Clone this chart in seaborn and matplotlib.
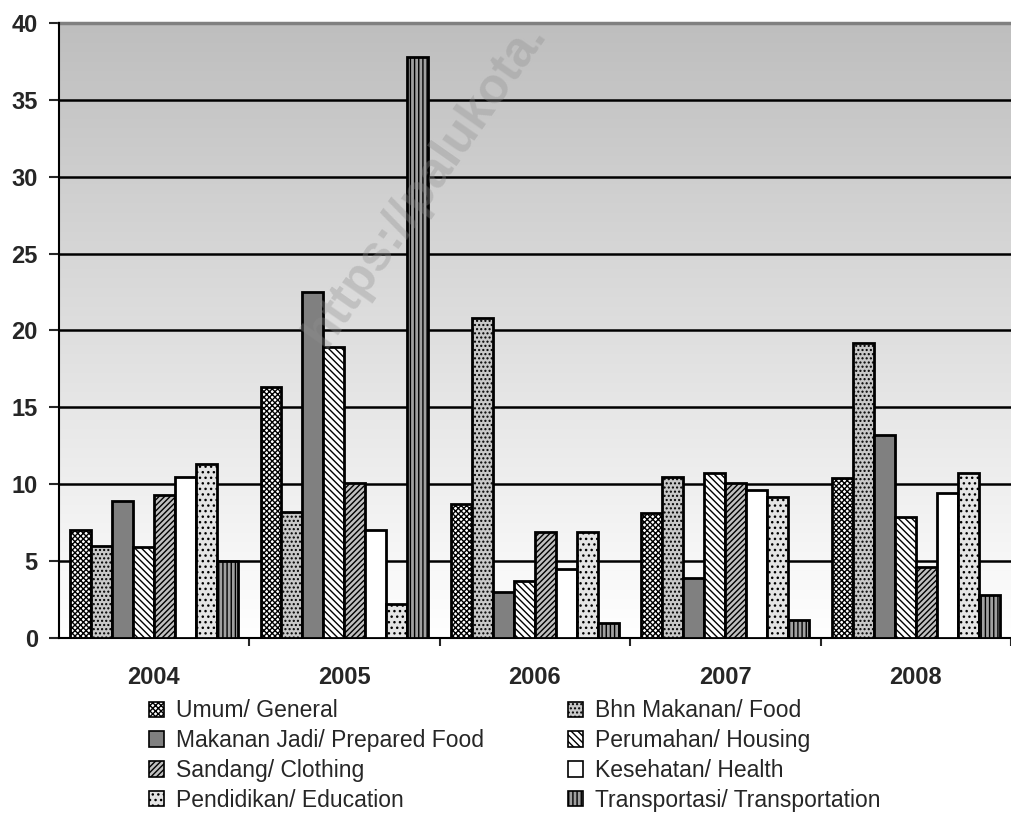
import numpy as np
import pandas as pd
import matplotlib
matplotlib.use('Agg')
import matplotlib.pyplot as plt
import seaborn as sns
from matplotlib.patches import Patch
from matplotlib.colors import LinearSegmentedColormap

years = ['2004', '2005', '2006', '2007', '2008']
groups = ['Umum/ General', 'Bhn Makanan/ Food', 'Makanan Jadi/ Prepared Food',
          'Perumahan/ Housing', 'Sandang/ Clothing', 'Kesehatan/ Health',
          'Pendidikan/ Education', 'Transportasi/ Transportation']

umum = [7.0, 16.3, 8.7, 8.1, 10.4]
bhn_makanan = [6.0, 8.2, 20.8, 10.5, 19.2]
makanan_jadi = [8.9, 22.5, 3.0, 3.9, 13.2]
perumahan = [5.9, 18.9, 3.7, 10.7, 7.9]
sandang = [9.3, 10.1, 6.9, 10.1, 4.6]
kesehatan = [10.5, 7.0, 4.5, 9.6, 9.4]
pendidikan = [11.3, 2.2, 6.9, 9.2, 10.7]
transportasi = [5.0, 37.8, 1.0, 1.2, 2.8]

series = [umum, bhn_makanan, makanan_jadi, perumahan, sandang, kesehatan, pendidikan, transportasi]
df = pd.DataFrame({
    'year': years * len(groups),
    'group': [g for g in groups for _ in years],
    'value': [v for s in series for v in s],
})

# fill colour + hatch for each series (greyscale like the original)
styles = {
    'Umum/ General': ('white', 'xxxxxx'),
    'Bhn Makanan/ Food': ('#c8c8c8', '....'),
    'Makanan Jadi/ Prepared Food': ('#808080', ''),
    'Perumahan/ Housing': ('white', '\\\\\\\\\\'),
    'Sandang/ Clothing': ('#c0c0c0', '//////'),
    'Kesehatan/ Health': ('white', ''),
    'Pendidikan/ Education': ('#e4e4e4', '...'),
    'Transportasi/ Transportation': ('#a0a0a0', '||||'),
}

sns.set_style('white')
plt.rcParams['font.family'] = ['Liberation Sans', 'DejaVu Sans']
plt.rcParams['hatch.linewidth'] = 1.0

fig = plt.figure(figsize=(10.11, 8.15), dpi=100)
ax = fig.add_axes([0.058, 0.2172, 0.942, 0.7546])

# background gradient (grey at top to white at bottom)
bg = LinearSegmentedColormap.from_list('bg', ['#bebebe', '#ffffff'])
grad = np.linspace(0, 1, 256).reshape(-1, 1)
ax.imshow(grad, extent=[-0.5, 4.5, 0, 40], aspect='auto', cmap=bg,
          origin='upper', zorder=0)

sns.barplot(data=df, x='year', y='value', hue='group', hue_order=groups,
            width=0.88, gap=0, ax=ax, legend=False, zorder=3,
            edgecolor='black', linewidth=2)

for cont, g in zip(ax.containers, groups):
    fc, h = styles[g]
    for bar in cont:
        bar.set_facecolor(fc)
        bar.set_hatch(h)
        bar.set_edgecolor('black')

ax.set_xlim(-0.5, 4.5)
ax.set_ylim(0, 40)
ax.set_yticks(range(0, 41, 5))
ax.yaxis.grid(True, color='black', linewidth=1.8, zorder=1)
ax.set_axisbelow(True)
ax.set_xlabel('')
ax.set_ylabel('')

ax.spines['right'].set_visible(False)
ax.spines['top'].set_color('#808080')
ax.spines['top'].set_linewidth(2.5)
ax.spines['top'].set_zorder(2)
ax.spines['left'].set_linewidth(1.5)
ax.spines['bottom'].set_linewidth(1.5)
ax.spines['left'].set_color('black')
ax.spines['bottom'].set_color('black')

ax.tick_params(axis='y', which='major', direction='out', length=7, width=1.5,
               left=True, labelsize=17, pad=8)
ax.tick_params(axis='x', which='major', length=0, labelsize=17, pad=20)
ax.set_xticks([0.5, 1.5, 2.5, 3.5, 4.5], minor=True)
ax.tick_params(axis='x', which='minor', direction='out', length=6, width=1.5, bottom=True)
for lab in ax.get_xticklabels() + ax.get_yticklabels():
    lab.set_fontweight('bold')

# watermark
fig.text(0.322, 0.572, 'https://palukota.', rotation=55, rotation_mode='anchor',
         fontsize=36, fontweight='bold', color='#909090', alpha=0.35,
         ha='left', va='baseline', zorder=10)

# legend: two columns, filled column-wise
order = [0, 2, 4, 6, 1, 3, 5, 7]
handles = []
for i in order:
    fc, h = styles[groups[i]]
    handles.append(Patch(facecolor=fc, hatch=h, edgecolor='black', linewidth=1.2, label=groups[i]))
fig.legend(handles=handles, loc='upper left', bbox_to_anchor=(0.147, 0.142), ncol=2,
           frameon=False, fontsize=16.5, handlelength=0.65, handleheight=0.65,
           handletextpad=0.55, columnspacing=3.65, labelspacing=0.3, borderaxespad=0,
           borderpad=0)

fig.savefig('out.png', dpi=100)
